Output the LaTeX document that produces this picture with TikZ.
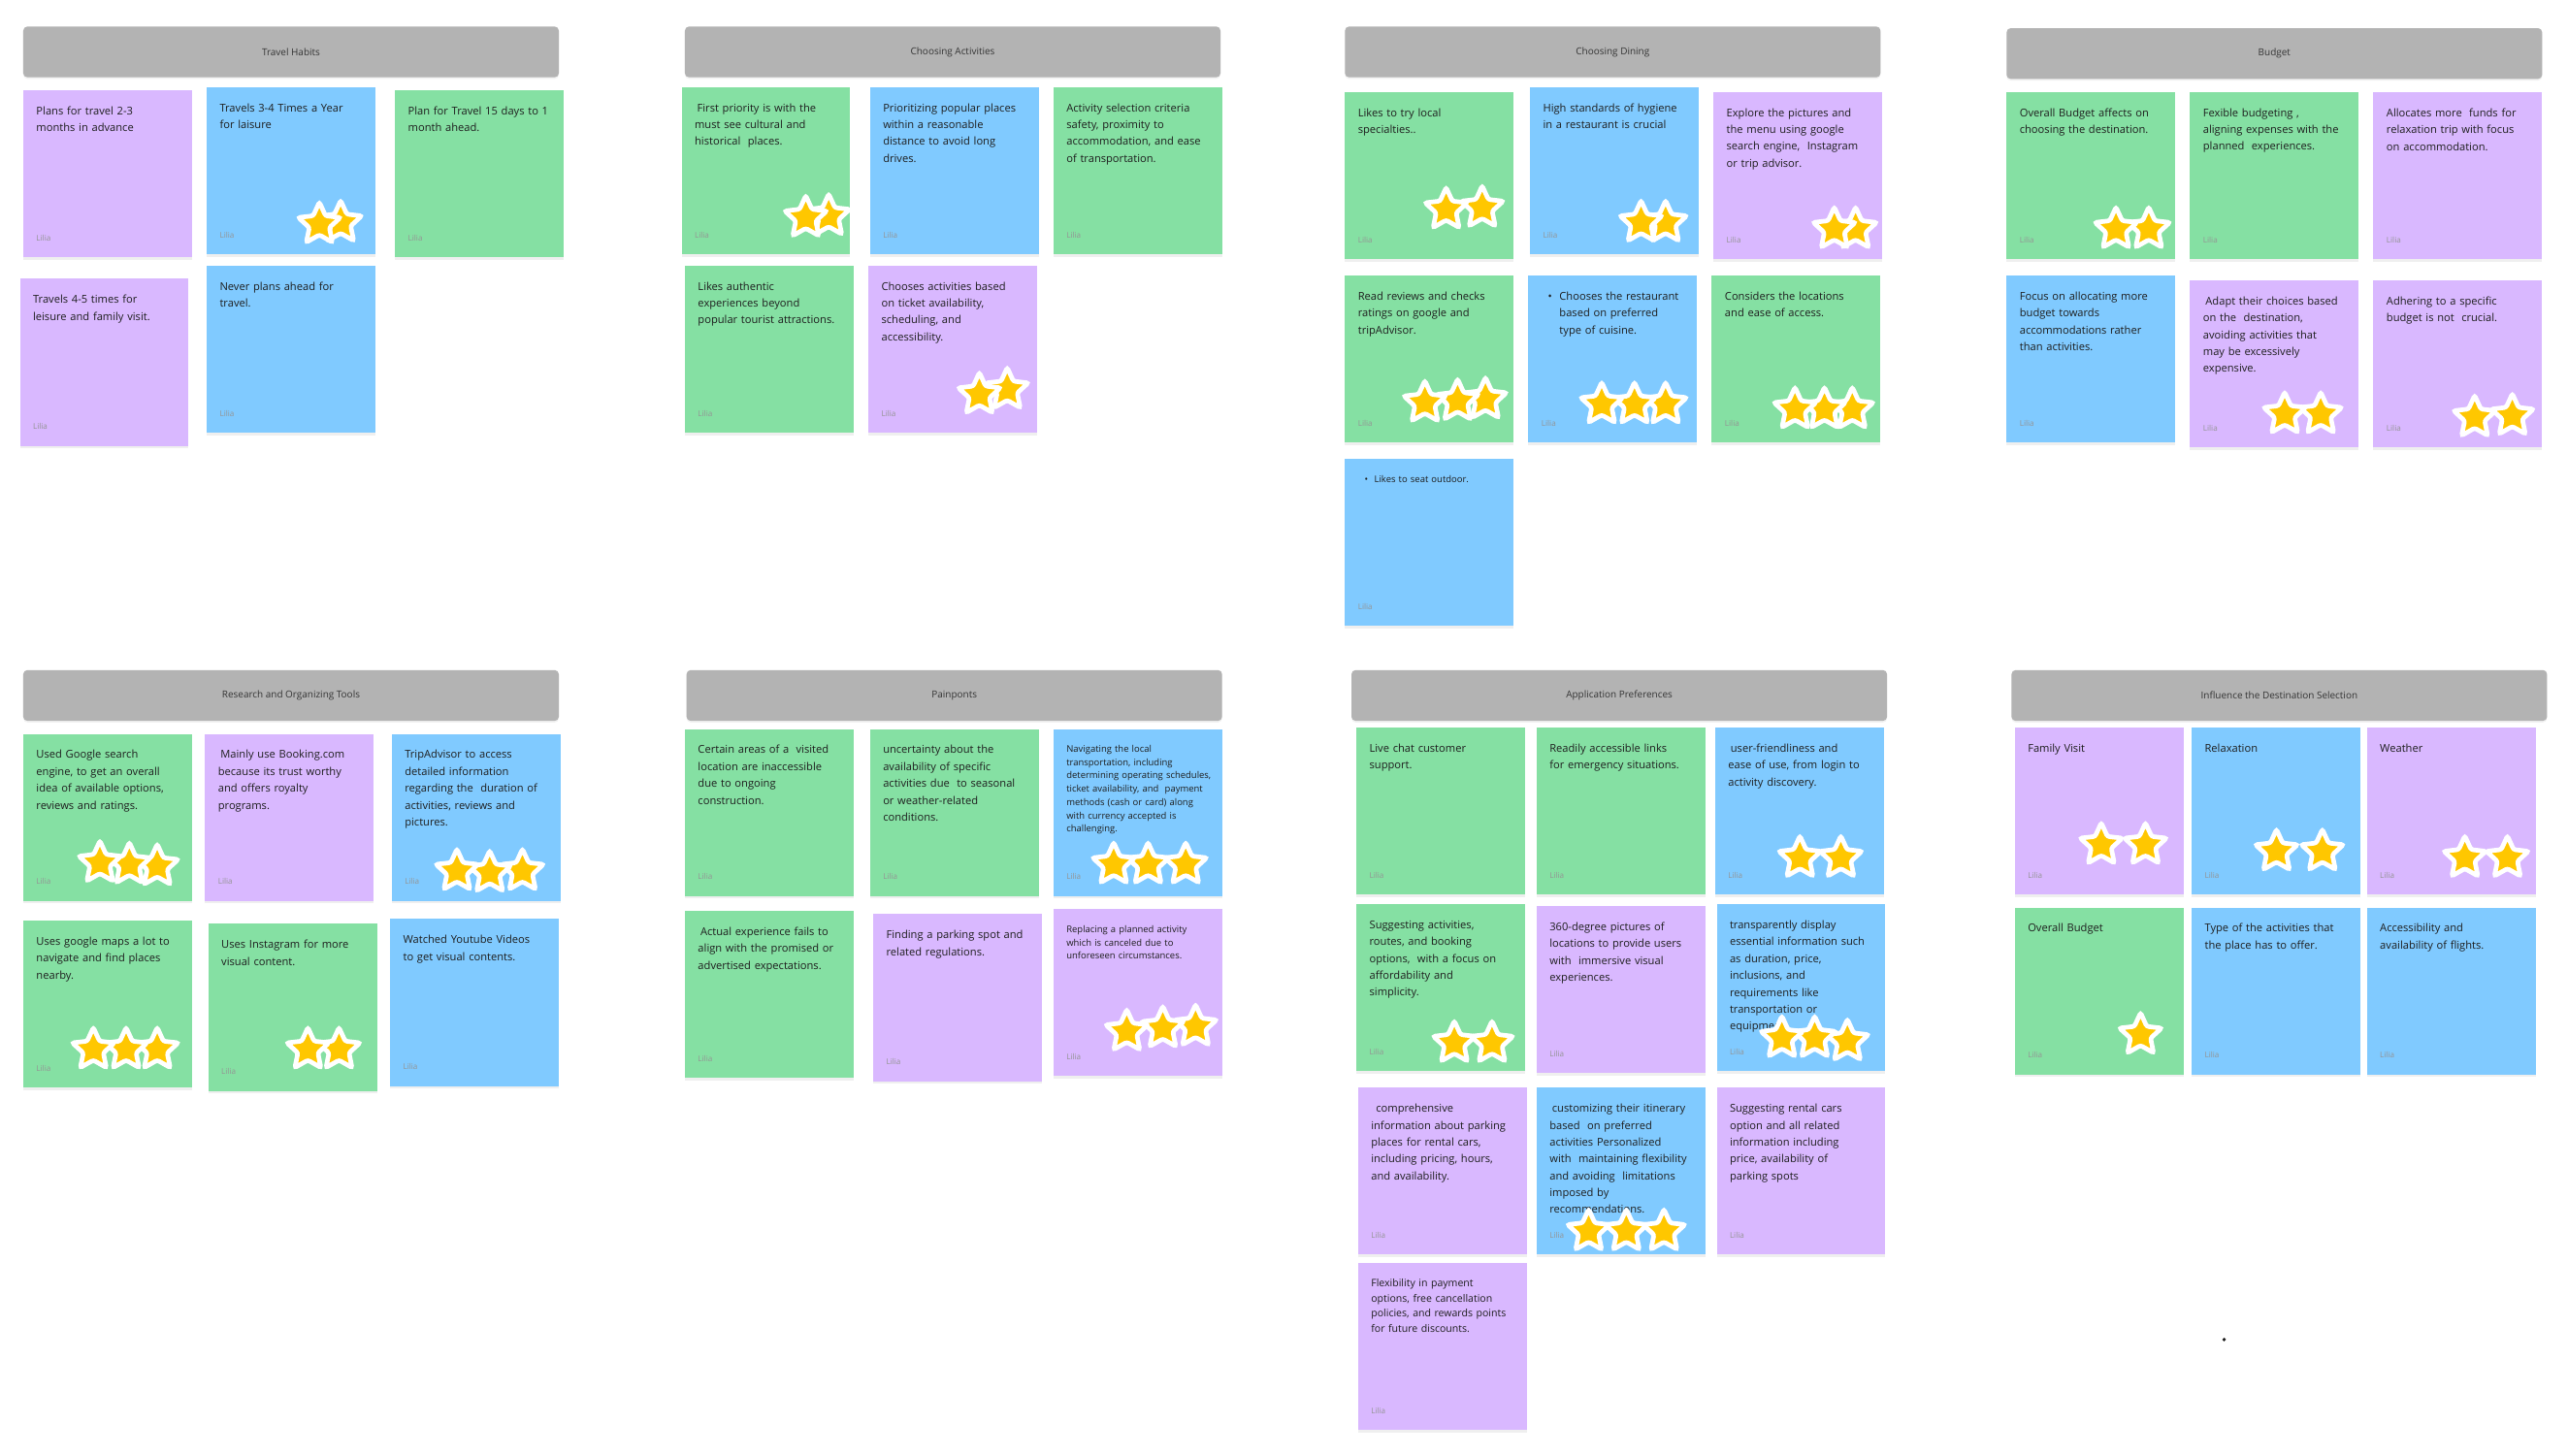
\documentclass[tikz,border=0pt]{standalone}
\usepackage{fontspec}
\setmainfont{Open Sans}
\usetikzlibrary{shapes.geometric,shadows}

\definecolor{notepurple}{HTML}{D9B8FF}
\definecolor{noteblue}{HTML}{80CAFF}
\definecolor{notegreen}{HTML}{85E0A3}
\definecolor{headgray}{HTML}{B3B3B3}
\definecolor{staryellow}{HTML}{FFC700}
\definecolor{inkdark}{HTML}{1E1E1E}

\tikzset{
  note/.style={rectangle, anchor=north west, minimum width=103pt, minimum height=102pt,
    inner sep=0pt, drop shadow={shadow xshift=0pt, shadow yshift=-1.5pt, opacity=0.12}},
  notetext/.style={anchor=north west, inner sep=0pt, align=left, text width=100pt,
    text=inkdark, font=\fontsize{6.6}{10.3}\selectfont},
  smalltext/.style={notetext, font=\fontsize{5.6}{8.1}\selectfont},
  midtext/.style={notetext, font=\fontsize{6.25}{9.2}\selectfont},
  author/.style={anchor=west, inner sep=0pt, text=black!42, font=\fontsize{4.8}{5}\selectfont},
  header/.style={rectangle, rounded corners=2.5pt, anchor=north west, minimum width=327pt,
    minimum height=31pt, fill=headgray, text=inkdark!90, font=\fontsize{5.9}{6}\selectfont,
    drop shadow={shadow xshift=0pt, shadow yshift=-1pt, opacity=0.1}},
  vote/.style={star, star points=5, star point ratio=2.1, minimum size=27pt, inner sep=0pt,
    fill=staryellow, draw=white, line width=2.8pt, rounded corners=1.3pt,
    drop shadow={shadow xshift=0.4pt, shadow yshift=-0.8pt, opacity=0.2}},
}

% one sticky note: [text style] name, colour, top left corner, text
\newcommand{\sticky}[5][notetext]{%
  \node[note, fill=#3] (#2) at (#4) {};
  \node[#1] (#2-txt) at ([shift={(8,10)}]#2.north west) {#5};
  \node[author] (#2-by) at ([shift={(8,-12)}]#2.south west) {Lilia};
}
% votes on a note, drawn right to left
\newcommand{\votes}[2]{%
  \foreach \vx/\vy [count=\vi] in {#2} \node[vote] (#1-star\vi) at (\vx,\vy) {};
}

\begin{document}
\begin{tikzpicture}[x=1pt, y=-1pt]
\fill[white] (0,0) rectangle (1568,889);
\useasboundingbox (0,0) rectangle (1568,889);

% Travel Habits
\node[header] (hth) at (14,16) {Travel Habits};
\sticky{th1}{notepurple}{14,55}{Plans for travel 2-3\\months in advance}
\sticky{th2}{noteblue}{126,53}{Travels 3-4 Times a Year\\for laisure}
\votes{th2}{208/136,195/137}
\sticky{th3}{notegreen}{241,55}{Plan for Travel 15 days to 1\\month ahead.}
\sticky{th4}{notepurple}{12,170}{Travels 4-5 times for\\leisure and family visit.}
\sticky{th5}{noteblue}{126,162}{Never plans ahead for\\travel.}

% Choosing Activities
\node[header] (hca) at (418,16) {Choosing Activities};
\sticky{ca1}{notegreen}{416,53}{\hspace*{1.5pt}First priority is with the\\must see cultural and\\historical~ places.}
\votes{ca1}{506/132,492/133}
\sticky{ca2}{noteblue}{531,53}{Prioritizing popular places\\within a reasonable\\distance to avoid long\\drives.}
\sticky{ca3}{notegreen}{643,53}{Activity selection criteria\\safety, proximity to\\accommodation, and ease\\of transportation.}
\sticky{ca4}{notegreen}{418,162}{Likes authentic\\experiences beyond\\popular tourist attractions.}
\sticky{ca5}{notepurple}{530,162}{Chooses activities based\\on ticket availability,\\scheduling, and\\accessibility.}
\votes{ca5}{615/238,598/241}

% Choosing Dining
\node[header] (hcd) at (821,16) {Choosing Dining};
\sticky{cd1}{notegreen}{821,56}{Likes to try local\\specialties..}
\votes{cd1}{905/127,883/128}
\sticky{cd2}{noteblue}{934,53}{High standards of hygiene\\in a restaurant is crucial}
\votes{cd2}{1017/136,1002/136}
\sticky{cd3}{notepurple}{1046,56}{Explore the pictures and\\the menu using google\\search engine,~ Instagram\\or trip advisor.}
\votes{cd3}{1133/140,1120/140}
\sticky{cd4}{notegreen}{821,168}{Read reviews and checks\\ratings on google and\\tripAdvisor.}
\votes{cd4}{907/244,890/245,870/246}
\sticky{cd5}{noteblue}{933,168}{\hspace*{4pt}\makebox[7pt][l]{\textbullet}Chooses the restaurant\\\hspace*{11pt}based on preferred\\\hspace*{11pt}type of cuisine.}
\votes{cd5}{1017/247,998/247,978/247}
\sticky{cd6}{notegreen}{1045,168}{Considers the locations\\and ease of access.}
\votes{cd6}{1131/250,1114/250,1096/250}
\sticky[smalltext]{cd7}{noteblue}{821,280}{\hspace*{4pt}\makebox[6pt][l]{\textbullet}Likes to seat outdoor.}

% Budget
\node[header] (hbu) at (1225,17) {Budget};
\sticky{bu1}{notegreen}{1225,56}{Overall Budget affects on\\choosing the destination.}
\votes{bu1}{1312/140,1292/140}
\sticky{bu2}{notegreen}{1337,56}{Fexible budgeting ,\\aligning expenses with the\\planned~ experiences.}
\sticky{bu3}{notepurple}{1449,56}{Allocates more~ funds for\\relaxation trip with focus\\on accommodation.}
\sticky{bu4}{noteblue}{1225,168}{Focus on allocating more\\budget towards\\accommodations rather\\than activities.}
\sticky{bu5}{notepurple}{1337,171}{\hspace*{1.5pt}Adapt their choices based\\on the~ destination,\\avoiding activities that\\may be excessively\\expensive.}
\votes{bu5}{1417/253,1395/253}
\sticky{bu6}{notepurple}{1449,171}{Adhering to a specific\\budget is not~ crucial.}
\votes{bu6}{1534/254,1511/255}

% Research and Organizing Tools
\node[header] (hro) at (14,409) {Research and Organizing Tools};
\sticky{ro1}{notegreen}{14,448}{Used Google search\\engine, to get an overall\\idea of available options,\\reviews and ratings.}
\votes{ro1}{96/529,79/528,61/527}
\sticky{ro2}{notepurple}{125,448}{\hspace*{1.5pt}Mainly use Booking.com\\because its trust worthy\\and offers royalty\\programs.}
\sticky{ro3}{noteblue}{239,448}{TripAdvisor to access\\detailed information\\regarding the~ duration of\\activities, reviews and\\pictures.}
\votes{ro3}{319/532,299/533,279/532}
\sticky{ro4}{notegreen}{14,562}{Uses google maps a lot to\\navigate and find places\\nearby.}
\votes{ro4}{96/641,77/641,57/641}
\sticky{ro5}{notegreen}{127,564}{Uses Instagram for more\\visual content.}
\votes{ro5}{207/641,188/641}
\sticky{ro6}{noteblue}{238,561}{Watched Youtube Videos\\to get visual contents.}

% Painponts
\node[header] (hpp) at (419,409) {Painponts};
\sticky{pp1}{notegreen}{418,445}{Certain areas of a~ visited\\location are inaccessible\\due to ongoing\\construction.}
\sticky{pp2}{notegreen}{531,445}{uncertainty about the\\availability of specific\\activities due~ to seasonal\\or weather-related\\conditions.}
\sticky[smalltext]{pp3}{noteblue}{643,445}{Navigating the local\\transportation, including\\determining operating schedules,\\ticket availability, and~ payment\\methods (cash or card) along\\with currency accepted is\\challenging.}
\votes{pp3}{724/528,701/528,680/528}
\sticky{pp4}{notegreen}{418,556}{\hspace*{1.5pt}Actual experience fails to\\align with the promised or\\advertised expectations.}
\sticky{pp5}{notepurple}{533,558}{Finding a parking spot and\\related regulations.}
\sticky[smalltext]{pp6}{notepurple}{643,555}{Replacing a planned activity\\which is canceled due to\\unforeseen circumstances.}
\votes{pp6}{730/627,710/628,688/630}

% Application Preferences
\node[header] (hap) at (825,409) {Application Preferences};
\sticky{ap1}{notegreen}{828,444}{Live chat customer\\support.}
\sticky{ap2}{notegreen}{938,444}{Readily accessible links\\for emergency situations.}
\sticky{ap3}{noteblue}{1047,444}{\hspace*{1.5pt}user-friendliness and\\ease of use, from login to\\activity discovery.}
\votes{ap3}{1124/524,1099/524}
\sticky{ap4}{notegreen}{828,552}{Suggesting activities,\\routes, and booking\\options,~ with a focus on\\affordability and\\simplicity.}
\votes{ap4}{911/637,888/637}
\sticky{ap5}{notepurple}{938,553}{360-degree pictures of\\locations to provide users\\with~ immersive visual\\experiences.}
\sticky{ap6}{noteblue}{1048,552}{transparently display\\essential information such\\as duration, price,\\inclusions, and\\requirements like\\transportation or\\equipment.}
\votes{ap6}{1128/636,1108/634,1088/634}
\sticky{ap7}{notepurple}{829,664}{\hspace*{3pt}comprehensive\\information about parking\\places for rental cars,\\including pricing, hours,\\and availability.}
\sticky{ap8}{noteblue}{938,664}{\hspace*{1.5pt}customizing their itinerary\\based~ on preferred\\activities Personalized\\with~ maintaining flexibility\\and avoiding~ limitations\\imposed by\\recommendations.}
\votes{ap8}{1016/752,993/752,970/752}
\sticky{ap9}{notepurple}{1048,664}{Suggesting rental cars\\option and all related\\information including\\price, availability of\\parking spots}
\sticky[midtext]{ap10}{notepurple}{829,771}{Flexibility in payment\\options, free cancellation\\policies, and rewards points\\for future discounts.}

% Influence the Destination Selection
\node[header] (hid) at (1228,409) {Influence the Destination Selection};
\sticky{id1}{notepurple}{1230,444}{Family Visit}
\votes{id1}{1310/516,1283/516}
\sticky{id2}{noteblue}{1338,444}{Relaxation}
\votes{id2}{1418/520,1390/520}
\sticky{id3}{notepurple}{1445,444}{Weather}
\votes{id3}{1531/524,1505/524}
\sticky{id4}{notegreen}{1230,554}{Overall Budget}
\votes{id4}{1307/632}
\sticky{id5}{noteblue}{1338,554}{Type of the activities that\\the place has to offer.}
\sticky{id6}{noteblue}{1445,554}{Accessibility and\\availability of flights.}

\node[circle, fill=inkdark, inner sep=0.8pt] (dot) at (1358,818) {};
\end{tikzpicture}
\end{document}
